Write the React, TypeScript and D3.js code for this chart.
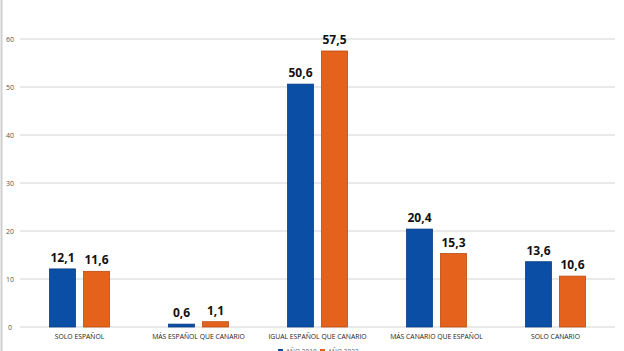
import * as d3 from "d3"

const categories = [
  "SOLO ESPAÑOL",
  "MÁS ESPAÑOL QUE CANARIO",
  "IGUAL ESPAÑOL QUE CANARIO",
  "MÁS CANARIO QUE ESPAÑOL",
  "SOLO CANARIO",
]
const series = ["AÑO 2018", "AÑO 2022"]
const values2018 = [12.1, 0.6, 50.6, 20.4, 13.6]
const values2022 = [11.6, 1.1, 57.5, 15.3, 10.6]
const yTicks = [0, 10, 20, 30, 40, 50, 60]

const colors = ["#0a4ea6", "#e5621c"]
const strokes = ["#083c82", "#b84b12"]

export default function App() {
  const width = 624
  const height = 351
  const left = 20
  const right = 615
  const y0 = 327
  const yTop = 39

  const x0 = d3.scaleBand().domain(categories).range([left, right])
  const groupW = 60
  const x1 = d3.scaleBand().domain(series).range([0, groupW]).paddingInner(2 - groupW / 34)
  const y = d3.scaleLinear().domain([0, 60]).range([y0, yTop])

  const rows = [values2018, values2022]
  const fmt = (v: number) => v.toFixed(1).replace(".", ",")

  return (
    <svg
      width={width}
      height={height}
      style={{ position: "fixed", top: 0, left: 0, display: "block", background: "#fff" }}
      fontFamily="Open Sans, Liberation Sans, sans-serif"
    >
      <rect x={0} y={0} width={width} height={height} fill="#fff" />
      <line x1={1.5} x2={1.5} y1={0} y2={height} stroke="#cfcfcf" strokeWidth={2} />

      {yTicks.map((t) => (
        <g key={t}>
          <line x1={left} x2={right} y1={y(t)} y2={y(t)} stroke="#d4d4d4" strokeWidth={1.2} />
          <text x={10} y={y(t) + 2.5} textAnchor="middle" fontSize={7} fill="#555">
            {t}
          </text>
        </g>
      ))}

      {categories.map((c, i) => {
        const gx = (x0(c) ?? 0) + (x0.bandwidth() - groupW) / 2
        return (
          <g key={c}>
            {series.map((s, j) => {
              const v = rows[j][i]
              const bx = gx + (x1(s) ?? 0)
              const by = y(v)
              return (
                <g key={s}>
                  <rect
                    x={bx}
                    y={by}
                    width={x1.bandwidth()}
                    height={y0 - by}
                    fill={colors[j]}
                    stroke={strokes[j]}
                    strokeWidth={0.8}
                  />
                  <text
                    x={bx + x1.bandwidth() / 2}
                    y={by - 7}
                    textAnchor="middle"
                    fontSize={12}
                    fontWeight={700}
                    fill="#111"
                  >
                    {fmt(v)}
                  </text>
                </g>
              )
            })}
            <text
              x={(x0(c) ?? 0) + x0.bandwidth() / 2}
              y={339}
              textAnchor="middle"
              fontSize={6.8}
              fill="#222"
            >
              {c}
            </text>
          </g>
        )
      })}

      {series.map((s, j) => (
        <g key={s} transform={`translate(${278 + j * 42},0)`}>
          <rect x={0} y={349} width={5} height={5} fill={colors[j]} />
          <text x={8} y={354} fontSize={6.5} fill="#666">
            {s}
          </text>
        </g>
      ))}
    </svg>
  )
}
